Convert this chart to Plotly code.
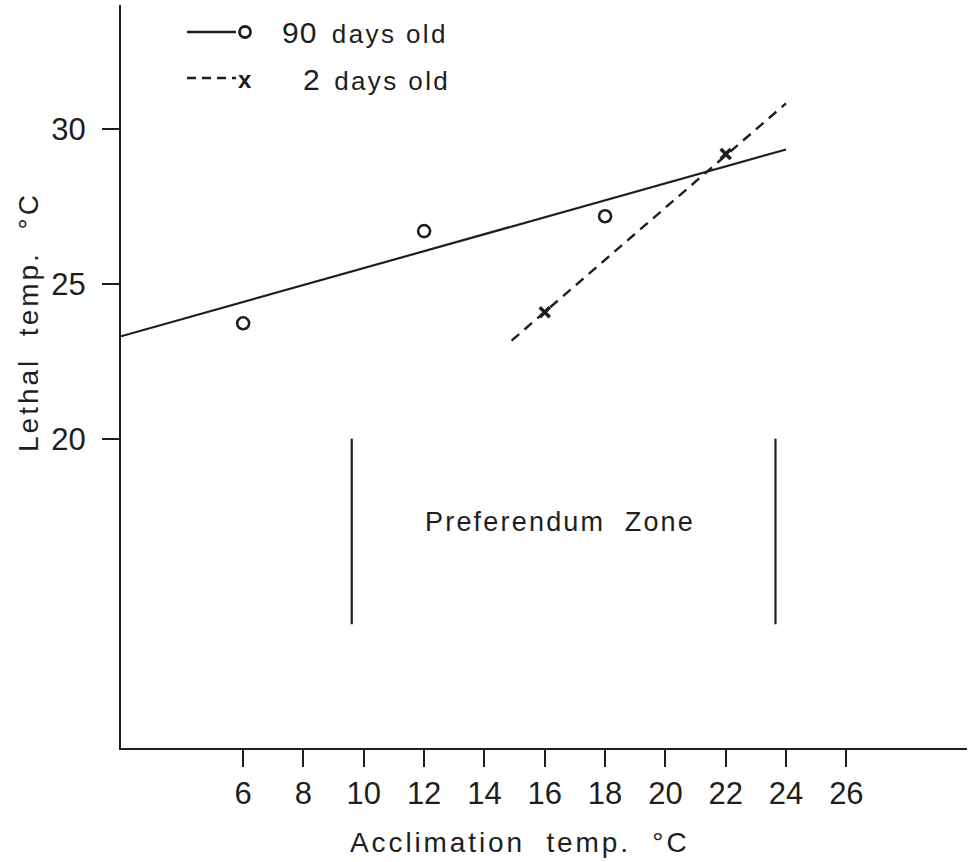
import plotly.graph_objects as go

# Acclimation temperature (°C) vs lethal temperature (°C)
acc_90 = [6, 12, 18]
lethal_90 = [23.73, 26.71, 27.19]
acc_2 = [16, 22]
lethal_2 = [24.09, 29.2]

# Fitted lines (end points)
fit90_x = [1.95, 24.0]
fit90_y = [23.31, 29.35]
fit2_x = [14.9, 24.0]
fit2_y = [23.17, 30.84]

# Preferendum zone boundaries
zone_x = [9.6, 23.65]
zone_y = [14.0, 20.0]

x_ticks = [6, 8, 10, 12, 14, 16, 18, 20, 22, 24, 26]
y_ticks = [20, 25, 30]

INK = "#1e1e1e"
FONT = "Liberation Sans, Arial, sans-serif"


def spaced(text, px):
    return f"<span style='letter-spacing:{px}px'>{text}</span>"


fig = go.Figure()

fig.add_trace(go.Scatter(x=fit90_x, y=fit90_y, mode="lines",
                         line=dict(color=INK, width=2.2), showlegend=False, hoverinfo="skip"))
fig.add_trace(go.Scatter(x=fit2_x, y=fit2_y, mode="lines",
                         line=dict(color=INK, width=2.4, dash="10px,7px"), showlegend=False, hoverinfo="skip"))
fig.add_trace(go.Scatter(x=acc_90, y=lethal_90, mode="markers",
                         marker=dict(symbol="circle-open", size=12, color=INK, line=dict(width=2.6)),
                         showlegend=False))
fig.add_trace(go.Scatter(x=acc_2, y=lethal_2, mode="markers",
                         marker=dict(symbol="x-thin", size=10, color=INK, line=dict(width=3.5, color=INK)),
                         showlegend=False))

# Preferendum zone markers
for zx in zone_x:
    fig.add_shape(type="line", x0=zx, x1=zx, y0=zone_y[0], y1=zone_y[1],
                  line=dict(color=INK, width=2.2))
fig.add_annotation(x=16.5, y=17.3, text=spaced("Preferendum  Zone", 2.2),
                   showarrow=False, font=dict(family=FONT, size=27, color=INK))

# Key in the upper left corner
PW, PH = 846.0, 743.0
def px(xp):
    return (xp - 121) / PW
def py(yp):
    return (748 - yp) / PH

fig.add_shape(type="line", xref="paper", yref="paper", x0=px(187), x1=px(236), y0=py(32), y1=py(32),
              line=dict(color=INK, width=2.4))
fig.add_shape(type="circle", xref="paper", yref="paper", x0=px(239.5), x1=px(250.5), y0=py(26.5), y1=py(37.5),
              line=dict(color=INK, width=2.8))
fig.add_shape(type="line", xref="paper", yref="paper", x0=px(187), x1=px(236), y0=py(78), y1=py(78),
              line=dict(color=INK, width=2.6, dash="9px,6px"))
fig.add_annotation(xref="paper", yref="paper", x=px(245), y=py(79), text="<b>x</b>", showarrow=False,
                   xanchor="center", yanchor="middle", font=dict(family=FONT, size=24, color=INK))
fig.add_annotation(xref="paper", yref="paper", x=px(280), y=py(33), xanchor="left", yanchor="middle",
                   text="<span style='font-size:30px;letter-spacing:1px'>90</span>  " + spaced("days old", 2.4),
                   showarrow=False, font=dict(family=FONT, size=26, color=INK))
fig.add_annotation(xref="paper", yref="paper", x=px(301), y=py(79), xanchor="left", yanchor="middle",
                   text="<span style='font-size:30px'>2</span>  " + spaced("days old", 2.4),
                   showarrow=False, font=dict(family=FONT, size=26, color=INK))

# Axis titles
fig.add_annotation(xref="paper", yref="paper", x=px(28), y=py(322), text=spaced("Lethal  temp.  °C", 3.0),
                   textangle=-90, showarrow=False, xanchor="center", yanchor="middle",
                   font=dict(family=FONT, size=28, color=INK))
fig.add_annotation(xref="paper", yref="paper", x=px(520), y=py(842), text=spaced("Acclimation  temp.  °C", 2.9),
                   showarrow=False, xanchor="center", yanchor="middle",
                   font=dict(family=FONT, size=28, color=INK))

fig.update_xaxes(range=[1.95, 30.0], tickvals=x_ticks, ticks="outside", ticklen=17, tickwidth=2,
                 tickcolor=INK, showline=True, linecolor=INK, linewidth=2.2, showgrid=False,
                 zeroline=False, tickfont=dict(family=FONT, size=31, color=INK))
fig.update_yaxes(range=[10, 34.02], tickvals=y_ticks, ticks="outside", ticklen=17, tickwidth=2,
                 tickcolor=INK, showline=True, linecolor=INK, linewidth=2.2, showgrid=False,
                 zeroline=False, tickfont=dict(family=FONT, size=31, color=INK),
                 ticklabelstandoff=10)

fig.update_layout(width=972, height=862, margin=dict(l=121, r=5, t=5, b=114),
                  plot_bgcolor="white", paper_bgcolor="white", showlegend=False)

fig.write_html("out.html")
